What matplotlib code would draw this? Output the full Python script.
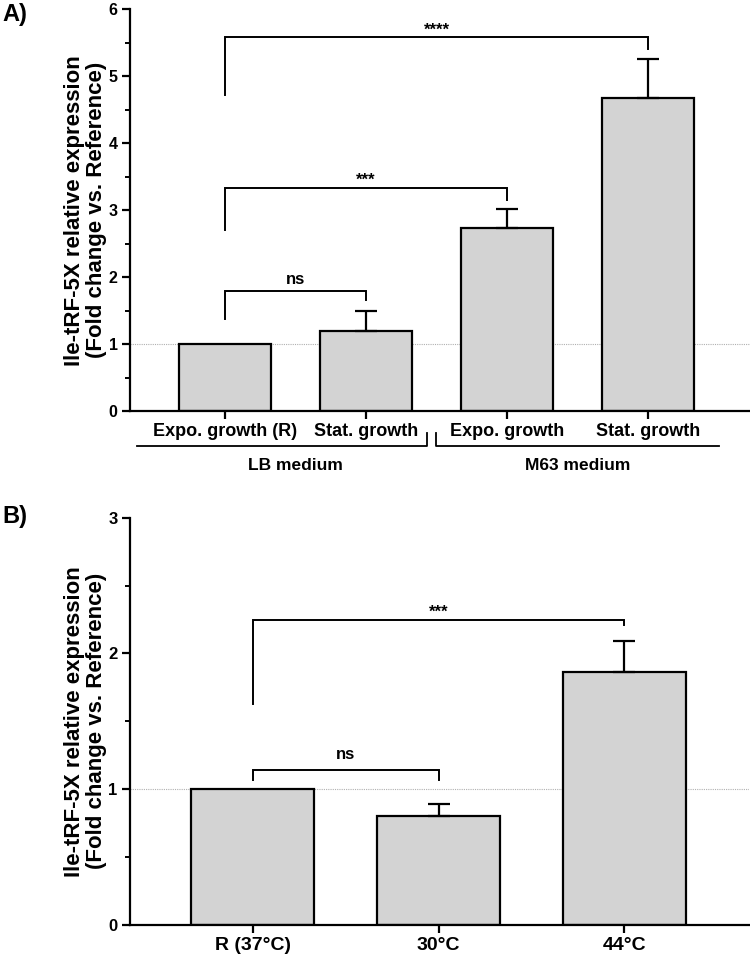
import matplotlib
matplotlib.use("Agg")
import matplotlib.pyplot as plt
import matplotlib.transforms as mtransforms
from matplotlib.ticker import MultipleLocator
import numpy as np

plt.rcParams['font.family'] = ['Liberation Sans', 'DejaVu Sans']
plt.rcParams['font.weight'] = 'bold'

# ---------- data ----------
a_labels = ["Expo. growth (R)", "Stat. growth", "Expo. growth", "Stat. growth"]
a_means = [1.00, 1.20, 2.73, 4.67]
a_err = [0.0, 0.29, 0.29, 0.59]
a_groups = ["LB medium", "M63 medium"]

b_labels = ["R (37°C)", "30°C", "44°C"]
b_means = [1.00, 0.80, 1.86]
b_err = [0.0, 0.09, 0.23]

ylabel = "Ile-tRF-5X relative expression\n(Fold change vs. Reference)"

# brackets: (i, j, y_top, left_leg_bottom, right_leg_bottom, text)
a_brackets = [(0, 1, 1.79, 1.37, 1.66, "ns"),
              (0, 2, 3.33, 2.70, 3.15, "***"),
              (0, 3, 5.58, 4.72, 5.40, "****")]
b_brackets = [(0, 1, 1.14, 1.07, 1.07, "ns"),
              (0, 2, 2.25, 1.63, 2.21, "***")]

W, H = 750, 957
fig = plt.figure(figsize=(W / 100, H / 100), dpi=100)

def px_axes(left, top, right, bottom):
    return fig.add_axes([left / W, 1 - bottom / H, (right - left) / W, (bottom - top) / H])

def style(ax, major, minor, ticksize, tickfont):
    for s in ['top', 'right']:
        ax.spines[s].set_visible(False)
    for s in ['left', 'bottom']:
        ax.spines[s].set_linewidth(1.6)
    ax.yaxis.set_major_locator(MultipleLocator(major))
    ax.yaxis.set_minor_locator(MultipleLocator(minor))
    ax.tick_params(axis='both', which='major', width=1.6, length=6, labelsize=ticksize, pad=3)
    ax.tick_params(axis='y', which='minor', width=1.4, length=3.5)
    for lab in ax.get_xticklabels() + ax.get_yticklabels():
        lab.set_fontweight('bold')
        lab.set_family(tickfont)

def draw_bars(ax, means, errs, labels, width):
    x = np.arange(len(means))
    ax.bar(x, means, width=width, color='#d3d3d3', edgecolor='black', linewidth=1.6, zorder=2)
    for xi, m, e in zip(x, means, errs):
        if e > 0:
            ax.errorbar(xi, m, yerr=[[0], [e]], fmt='none', ecolor='black',
                        elinewidth=1.6, capsize=8, capthick=1.6, zorder=3)
    ax.axhline(1.0, color='#b0b0b0', lw=0.8, ls=(0, (1, 1)), zorder=1)
    ax.set_xticks(x)
    ax.set_xticklabels(labels)
    return x

def draw_brackets(ax, brackets, starsize):
    for i, j, yt, yl, yr, txt in brackets:
        ax.plot([i, i, j, j], [yl, yt, yt, yr], color='black', lw=1.4,
                solid_joinstyle='miter', zorder=3, clip_on=False)
        fs = 12 if txt == 'ns' else starsize
        dy = 0.06 if txt == 'ns' else 0.0
        ax.text((i + j) / 2, yt + dy, txt, ha='center', va='bottom',
                fontsize=fs, fontweight='bold', zorder=4)

# ---------- Panel A ----------
axA = px_axes(130, 9.3, 750, 411)
draw_bars(axA, a_means, a_err, a_labels, 0.65)
axA.set_ylim(0, 6)
axA.set_xlim(-0.67, 3.72)
style(axA, 1, 0.5, 13, ['Liberation Sans', 'DejaVu Sans'])
for lab in axA.get_yticklabels():
    lab.set_fontsize(11.5)
draw_brackets(axA, a_brackets, 12)
axA.set_ylabel(ylabel, fontsize=16, fontweight='bold', linespacing=1.05)
axA.yaxis.set_label_coords(-0.037, 0.5)

trA = mtransforms.blended_transform_factory(axA.transData, axA.transAxes)
# group lines: (x_start, x_end, tick_side)
grp_spans = [(-0.62, 1.43, 'right'), (1.50, 3.50, 'left')]
for (x0, x1, side), name in zip(grp_spans, a_groups):
    y_line = -0.087
    y_tick = -0.055
    xs = [x0, x1, x1] if side == 'right' else [x1, x0, x0]
    ys = [y_line, y_line, y_tick]
    axA.plot(xs, ys, color='black', lw=1.3, transform=trA, clip_on=False)
    xc = 0.5 if name == a_groups[0] else 2.5
    axA.text(xc, -0.135, name, transform=trA, ha='center', va='center',
             fontsize=12.5, fontweight='bold')

# ---------- Panel B ----------
axB = px_axes(130, 517.7, 749, 925)
draw_bars(axB, b_means, b_err, b_labels, 0.66)
axB.set_ylim(0, 3)
axB.set_xlim(-0.66, 2.67)
narrow = ['Liberation Sans Narrow', 'Liberation Sans', 'DejaVu Sans']
style(axB, 1, 0.5, 14, narrow)
for lab in axB.get_yticklabels():
    lab.set_fontsize(12)
draw_brackets(axB, b_brackets, 12)
axB.set_ylabel(ylabel, fontsize=16, fontweight='bold', linespacing=1.05)
axB.yaxis.set_label_coords(-0.037, 0.5)

fig.text(2 / W, 1 - 15 / H, "A)", fontsize=17, fontweight='bold', va='center', ha='left')
fig.text(2 / W, 1 - 516 / H, "B)", fontsize=17, fontweight='bold', va='center', ha='left')

fig.savefig("out.png", dpi=100)
